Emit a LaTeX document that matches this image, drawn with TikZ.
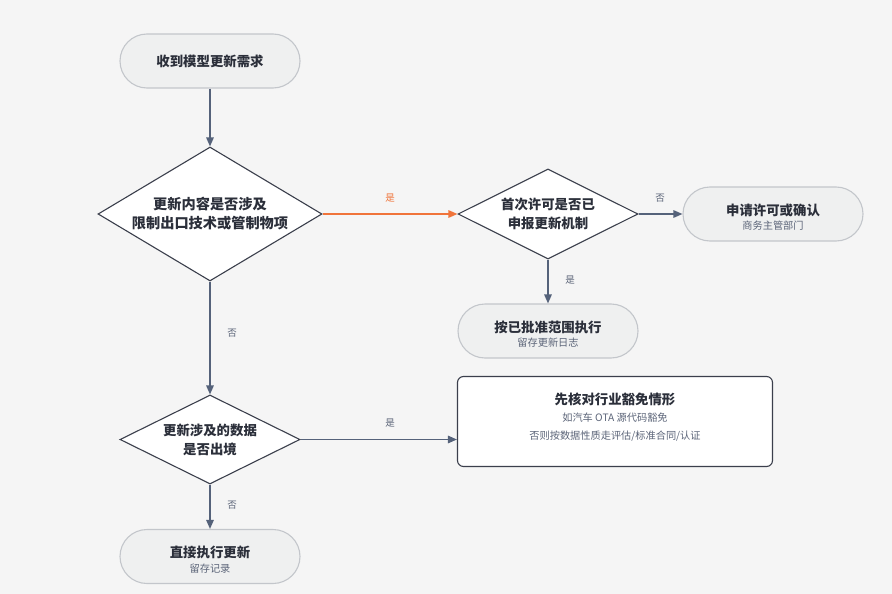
\documentclass[tikz,border=0pt]{standalone}
\usepackage{fontspec}
\setmainfont{Noto Sans CJK SC}
\usepackage{xcolor}
\usetikzlibrary{shapes.geometric,arrows.meta}
\definecolor{bgc}{HTML}{F5F5F5}
\definecolor{termfill}{HTML}{EFF0F0}
\definecolor{termline}{HTML}{C3C6CB}
\definecolor{boxline}{HTML}{3B3F4C}
\definecolor{flowc}{HTML}{55627A}
\definecolor{yesc}{HTML}{F0743A}
\definecolor{textc}{HTML}{2B2F3A}
\definecolor{subc}{HTML}{5B6478}

\begin{document}
\begin{tikzpicture}[x=1pt,y=-1pt,
    term/.style={draw=termline,fill=termfill,line width=1.1pt,rounded corners=27pt,minimum width=180pt,minimum height=54pt,inner sep=0pt},
    ask/.style={diamond,draw=boxline,fill=white,line width=1.1pt,inner sep=0pt},
    note/.style={draw=boxline,fill=white,line width=1.1pt,rounded corners=6pt,minimum width=315pt,minimum height=90pt,inner sep=0pt},
    ttl/.style={text=textc,font=\bfseries\fontsize{13.4}{19}\selectfont,align=center,inner sep=0pt},
    sub/.style={text=subc,font=\fontsize{10.2}{12}\selectfont,inner sep=0pt},
    lbl/.style={text=subc,font=\fontsize{9.5}{11}\selectfont,inner sep=0pt},
    flow/.style={draw=flowc,line width=1.4pt,-{Triangle[length=9pt,width=7.5pt]}}]
            \fill[bgc] (0,0) rectangle (892,594);
            \useasboundingbox (0,0) rectangle (892,594);
            \node (recv) at (210,61) [term] {};
            \node (recvt) at (recv.center) [ttl] {收到模型更新需求};
            \node (q1) at (210,214) [ask,minimum width=224pt,minimum height=134pt] {};
            \node (q1t) at (q1.center) [ttl,font=\bfseries\fontsize{14.2}{19}\selectfont] {更新内容是否涉及\\限制出口技术或管制物项};
            \node (q2) at (548,214) [ask,minimum width=180pt,minimum height=90pt] {};
            \node (q2t) at (q2.center) [ttl] {首次许可是否已\\申报更新机制};
            \node (apply) at (773,214) [term] {};
            \node (applyt) at ([yshift=4pt]apply.center) [ttl] {申请许可或确认};
            \node (applys) at ([yshift=-12pt]apply.center) [sub] {商务主管部门};
            \node (keep) at (548,331) [term] {};
            \node (keept) at ([yshift=4pt]keep.center) [ttl] {按已批准范围执行};
            \node (keeps) at ([yshift=-12pt]keep.center) [sub] {留存更新日志};
            \node (q3) at (210,439.5) [ask,minimum width=180pt,minimum height=89pt] {};
            \node (q3t) at (q3.center) [ttl] {更新涉及的数据\\是否出境};
            \node (check) at (615,421.5) [note] {};
            \node (checkt) at ([yshift=22.5pt]check.center) [ttl] {先核对行业豁免情形};
            \node (checks) at ([yshift=3.5pt]check.center) [sub] {如汽车 OTA 源代码豁免};
            \node (checkr) at ([yshift=-14.5pt]check.center) [sub] {否则按数据性质走评估/标准合同/认证};
            \node (direct) at (210,556.5) [term] {};
            \node (directt) at ([yshift=4pt]direct.center) [ttl] {直接执行更新};
            \node (directs) at ([yshift=-12pt]direct.center) [sub] {留存记录};
            \draw[flow] (recv) -- (q1);
            \draw[flow,draw=yesc,-{Triangle[length=9pt,width=7.5pt,fill=yesc]}] (q1.east) -- (q2.west);
            \node (l1) at (390,198) [lbl,text=yesc] {是};
            \draw[flow] (q2.east) -- (apply.west);
            \node (l2) at (660,198) [lbl] {否};
            \draw[flow] (q2.south) -- (keep.north);
            \node (l3) at (570,280) [lbl] {是};
            \draw[flow] (q1.south) -- (q3.north);
            \node (l4) at (232,333) [lbl] {否};
            \draw[flow] (q3.east) -- (check.west |- q3.east);
            \node (l5) at (390,423) [lbl] {是};
            \draw[flow] (q3.south) -- (direct.north);
            \node (l6) at (232,505) [lbl] {否};
        \end{tikzpicture}
\end{document}
